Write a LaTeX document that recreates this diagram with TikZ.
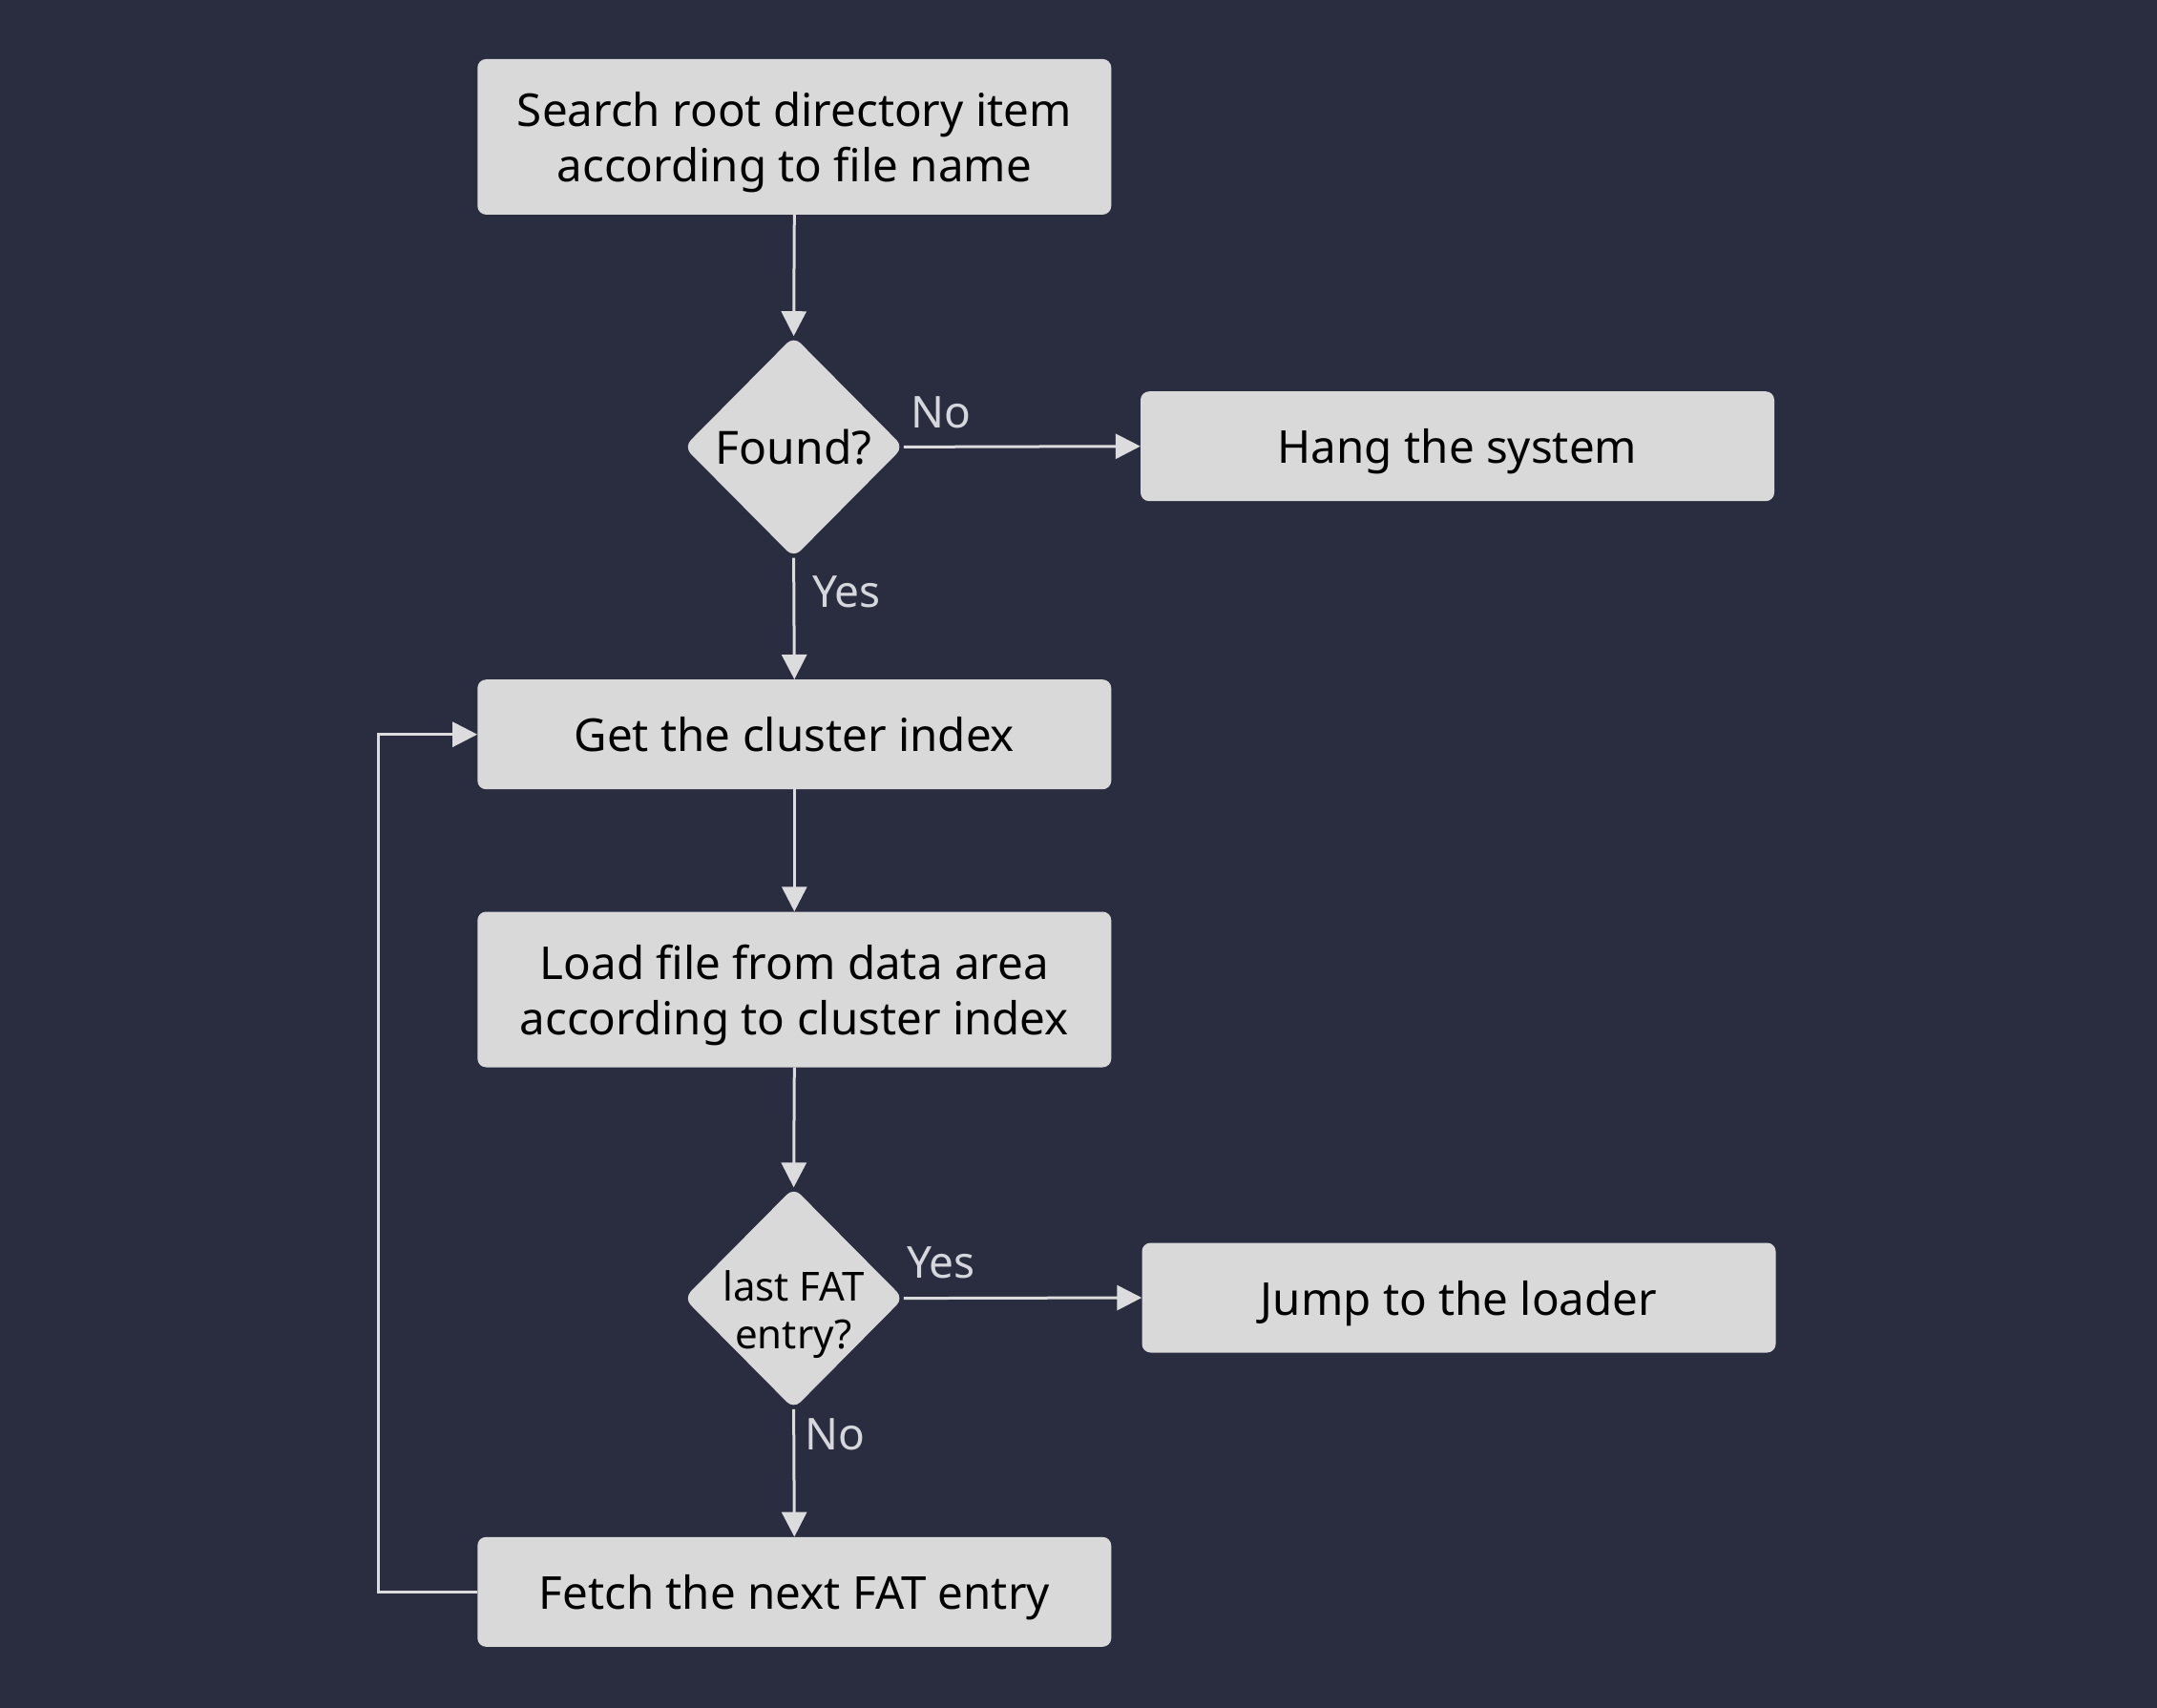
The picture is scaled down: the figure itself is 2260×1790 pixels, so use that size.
\documentclass[tikz,border=0pt]{standalone}
\usepackage{fontspec}
\setmainfont{Noto Sans}
\usetikzlibrary{arrows.meta,shapes.geometric}
\definecolor{bg}{RGB}{42,45,64}
\definecolor{boxfill}{RGB}{217,217,217}
\definecolor{linec}{RGB}{220,220,222}
\definecolor{lblc}{RGB}{214,215,220}
\begin{document}
\begin{tikzpicture}[x=1pt,y=-1pt,
  stepbox/.style={fill=boxfill, rounded corners=9pt, minimum width=664pt, inner sep=0pt,
    align=center, text=black, text depth=0pt, font=\fontsize{47.5}{58}\selectfont},
  tallbox/.style={stepbox, minimum height=163pt},
  shortbox/.style={stepbox, minimum height=115pt},
  decide/.style={diamond, fill=boxfill, rounded corners=10pt, minimum width=230pt,
    minimum height=232pt, inner sep=-30pt, align=center, text=black},
  conn/.style={draw=linec, line width=3pt, -{Triangle[length=26pt,width=26pt]}},
  lbl/.style={text=lblc, font=\fontsize{46}{50}\selectfont, inner sep=0pt}]
\fill[bg] (0,0) rectangle (2260,1790);
\useasboundingbox (0,0) rectangle (2260,1790);

\node[tallbox] (search) at (832.3,143.4) {Search root directory item\\according to file name};
\node[decide, font=\fontsize{48}{50}\selectfont] (found) at (831.6,468.4) {Found?};
\node[shortbox] (hang) at (1527,467.7) {Hang the system};
\node[shortbox] (getc) at (832.3,769.7) {Get the cluster index};
\node[tallbox] (load) at (832.3,1037) {Load file from data area\\according to cluster index};
\node[decide, font=\fontsize{42}{50}\selectfont] (last) at (831.6,1360.6) {\raisebox{-24pt}[0pt][0pt]{\begin{tabular}{@{}c@{}}last FAT\\entry?\end{tabular}}};
\node[shortbox] (jump) at (1528.5,1360) {Jump to the loader};
\node[shortbox] (fetch) at (832.3,1668.3) {Fetch the next FAT entry};
\coordinate (loopb) at (396.4,1668.3);
\coordinate (loopt) at (396.4,769.7);

\draw[conn] (search.south) -- (found.north);
\draw[conn] (found.east) -- (hang.west);
\draw[conn] (found.south) -- (getc.north);
\draw[conn] (getc.south) -- (load.north);
\draw[conn] (load.south) -- (last.north);
\draw[conn] (last.east) -- (jump.west);
\draw[conn] (last.south) -- (fetch.north);
\draw[conn] (fetch.west) -- (loopb) -- (loopt) -- (getc.west);

\node[lbl] (l1) at (986,432) {No};
\node[lbl] (l2) at (887,620) {Yes};
\node[lbl] (l3) at (986,1323) {Yes};
\node[lbl] (l4) at (875,1503) {No};
\end{tikzpicture}
\end{document}
